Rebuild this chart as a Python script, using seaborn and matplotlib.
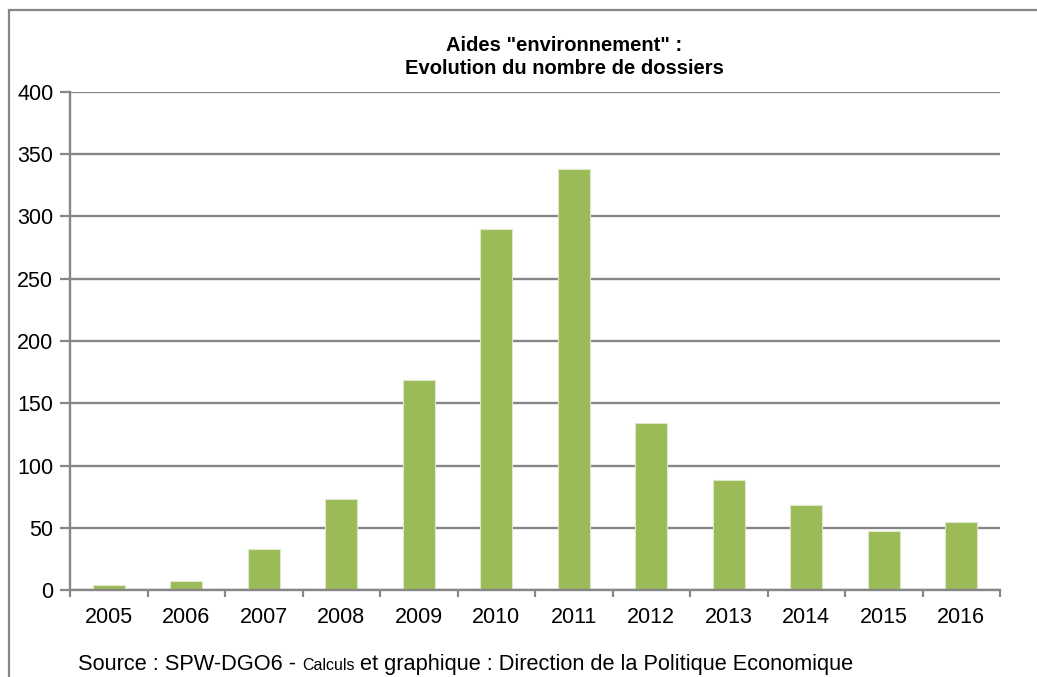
import matplotlib
matplotlib.use("Agg")
import matplotlib.pyplot as plt
from matplotlib.patches import Rectangle
import seaborn as sns
import pandas as pd
import numpy as np

years = ["2005", "2006", "2007", "2008", "2009", "2010",
         "2011", "2012", "2013", "2014", "2015", "2016"]
dossiers = [4, 7, 33, 73, 169, 290, 338, 134, 88, 68, 47, 55]
y_ticks = [0, 50, 100, 150, 200, 250, 300, 350, 400]

title_text = 'Aides "environnement" :\nEvolution du nombre de dossiers'
source_parts = [("Source : SPW-DGO6 - ", 15.7),
                ("Calculs", 11.5),
                (" et graphique : Direction de la Politique Economique", 15.7)]

sns.set_theme(style="white")
plt.rcParams["font.family"] = ["Liberation Sans", "DejaVu Sans"]

W, H = 1037, 677
fig = plt.figure(figsize=(W / 100, H / 100), dpi=100)
ax = fig.add_axes([70 / W, 1 - 590 / H, 930 / W, 498 / H])

grey = "#868686"
df = pd.DataFrame({"year": years, "n": dossiers})
sns.barplot(data=df, x="year", y="n", color="#9BBB59", saturation=1,
            width=0.41, edgecolor="#DDE8C8", linewidth=0.8, ax=ax)

ax.set_ylim(0, 400)
ax.set_xlim(-0.5, len(years) - 0.5)
ax.set_yticks(y_ticks)
ax.set_yticklabels([str(v) for v in y_ticks])
ax.set_xlabel("")
ax.set_ylabel("")

# horizontal grid behind the bars
ax.set_axisbelow(True)
ax.yaxis.grid(True, color=grey, linewidth=1.7)
ax.xaxis.grid(False)

for side in ("top", "right"):
    ax.spines[side].set_visible(False)
for side in ("left", "bottom"):
    ax.spines[side].set_visible(True)
    ax.spines[side].set_color(grey)
    ax.spines[side].set_linewidth(1.7)

# ticks on the category boundaries, labels centred under the bars
ax.set_xticks(np.arange(-0.5, len(years), 1.0), minor=True)
ax.tick_params(axis="x", which="minor", length=5, width=1.6, color=grey,
               direction="out", bottom=True)
ax.tick_params(axis="x", which="major", length=0, pad=12, labelsize=15.5,
               labelcolor="black", bottom=True)
ax.tick_params(axis="y", which="major", length=7, width=1.6, color=grey,
               direction="out", pad=5, labelsize=15.5, labelcolor="black",
               left=True)

fig.text(564 / W, 1 - 57 / H, title_text, ha="center", va="center",
         fontsize=14.5, fontweight="bold", linespacing=1.25,
         color="black")

# outer frame of the chart area
fig.add_artist(Rectangle((9 / W, -0.1), 1.2, 1 - 10 / H + 0.1,
                         transform=fig.transFigure, fill=False,
                         edgecolor=grey, linewidth=1.6))

# source line built from pieces of different sizes
fig.canvas.draw()
renderer = fig.canvas.get_renderer()
x = 78
for txt, size in source_parts:
    t = fig.text(x / W, 1 - 670 / H, txt, fontsize=size, ha="left",
                 va="baseline", color="black")
    bb = t.get_window_extent(renderer=renderer)
    x += bb.width

fig.savefig("out.png", dpi=100)
